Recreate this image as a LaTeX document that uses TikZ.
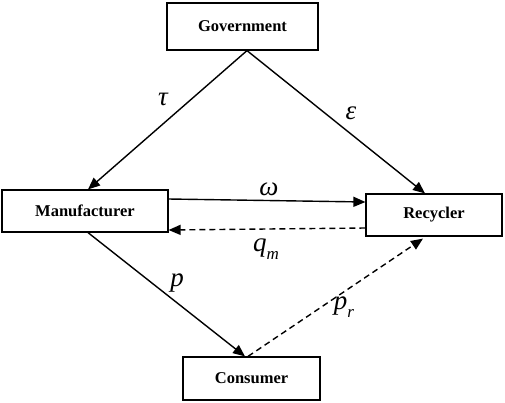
\documentclass[tikz,border=0pt]{standalone}
\usepackage{fontspec}
\setmainfont{Liberation Serif}
\usetikzlibrary{arrows.meta}
\begin{document}
\begin{tikzpicture}[x=1pt,y=-1pt,
  box/.style={draw,line width=1.2pt,inner sep=0pt,font=\fontsize{16.5}{18}\selectfont\bfseries},
  conn/.style={line width=1.4pt,-{Triangle[length=12pt,width=10pt]}},
  dashconn/.style={conn,dash pattern=on 6pt off 4pt},
  lab/.style={font=\fontsize{27}{29}\selectfont\itshape,inner sep=0pt}]
\useasboundingbox (0,0) rectangle (505,402);
\node[box,minimum width=151pt,minimum height=47pt] (gov) at (242.5,26.5) {Government};
\node[box,minimum width=166pt,minimum height=42pt] (man) at (85,211) {Manufacturer};
\node[box,minimum width=136pt,minimum height=42pt] (rec) at (434,215) {Recycler};
\node[box,minimum width=137pt,minimum height=43pt] (con) at (251.5,378.5) {Consumer};
\draw[conn] ([xshift=4.5pt]gov.south) -- ([xshift=3pt]man.north);
\draw[conn] ([xshift=4.5pt]gov.south) -- ([xshift=-9pt]rec.north);
\draw[conn] ([yshift=12pt]man.east) -- ([yshift=13pt]rec.west);
\draw[dashconn] ([yshift=-13pt]rec.west) -- ([yshift=-19pt]man.east);
\draw[conn] ([xshift=3pt]man.south) -- ([xshift=-6.5pt]con.north);
\draw[dashconn] ([xshift=-3.5pt]con.north) -- ([xshift=-11pt,yshift=-2pt]rec.south);
\node[lab] (tau) at (163,99) {τ};
\node[lab] (eps) at (351,113.5) {ε};
\node[lab] (om) at (269,189) {ω};
\node[lab] (qm) at (266,249) {q\raisebox{-0.3em}{\fontsize{17}{19}\selectfont m}};
\node[lab] (pp) at (177,283.5) {p};
\node[lab] (pr) at (344,307) {p\raisebox{-0.3em}{\fontsize{17}{19}\selectfont r}};
\end{tikzpicture}
\end{document}
